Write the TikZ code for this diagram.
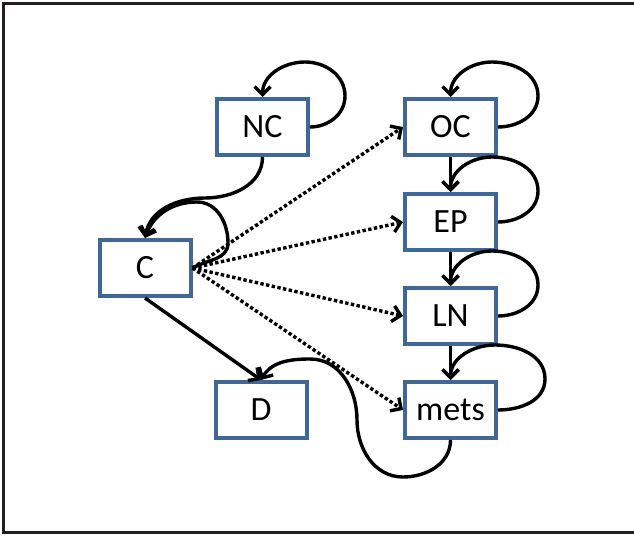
\documentclass[tikz,border=0pt]{standalone}
\usepackage{fontspec}
\setmainfont{Carlito}
\usetikzlibrary{arrows.meta}
\definecolor{boxblue}{HTML}{3F6797}
\definecolor{framegray}{HTML}{231F20}
\begin{document}
\begin{tikzpicture}[x=1pt,y=1pt,
    box/.style={draw=boxblue, line width=4pt, fill=white, minimum width=91pt, minimum height=56pt, inner sep=0pt, font=\fontsize{34}{40}\selectfont},
    link/.style={line width=3.4pt, -{Straight Barb[length=8pt,width=16pt]}},
    maybe/.style={link, dash pattern=on 3.4pt off 2.4pt}]
                \useasboundingbox (0,0) rectangle (634,536);
                \draw [framegray, line width=3pt] (640,532.5) -- (3.5,532.5) -- (3.5,3.5) -- (640,3.5);

                \node [box] (nc) at (262.5,409) {NC};
                \node [box] (c) at (145,268) {C};
                \node [box] (d) at (261,126) {D};
                \node [box] (oc) at (450.5,409) {OC};
                \node [box] (ep) at (450.5,314) {EP};
                \node [box] (ln) at (450.5,220) {LN};
                \node [box] (mets) at (450.5,126) {mets};

                \draw [link] (nc.east) to[out=0,in=-90] (345,440) to[out=90,in=0] (305,474) to[out=180,in=90] (nc.north);
                \draw [link] (oc.east) to[out=0,in=-90] (538,440) to[out=90,in=0] (492,474) to[out=180,in=90] (oc.north);
                \draw [link] (ep.east) to[out=0,in=-90] (538,345) to[out=90,in=0] (492,379) to[out=180,in=90] (ep.north);
                \draw [link] (ln.east) to[out=0,in=-90] (538,251) to[out=90,in=0] (492,285) to[out=180,in=90] (ln.north);
                \draw [link] (mets.east) to[out=0,in=-90] (545,157) to[out=90,in=0] (495,191) to[out=180,in=90] (mets.north);
                \draw [link] (c.east) to[out=30,in=-90] (228,293) to[out=90,in=0] (197,334) to[out=180,in=70] (c.north);
                \draw [link] (nc.south) to[out=-90,in=0] (205,338) to[out=180,in=80] (c.north);

                \draw [link] (oc.south) -- (ep.north);
                \draw [link] (ep.south) -- (ln.north);
                \draw [link] (ln.south) -- (mets.north);
                \draw [link] (c.south) -- (d.north);
                \draw [link] (mets.south) to[out=-90,in=0] (403,59) to[out=180,in=-90] (357,116) to[out=90,in=0] (310,177) to[out=180,in=60] (d.north);

                \draw [maybe] (c.east) -- (oc.west);
                \draw [maybe] (c.east) -- (ep.west);
                \draw [maybe] (c.east) -- (ln.west);
                \draw [maybe] (c.east) -- (mets.west);
            \end{tikzpicture}
\end{document}
